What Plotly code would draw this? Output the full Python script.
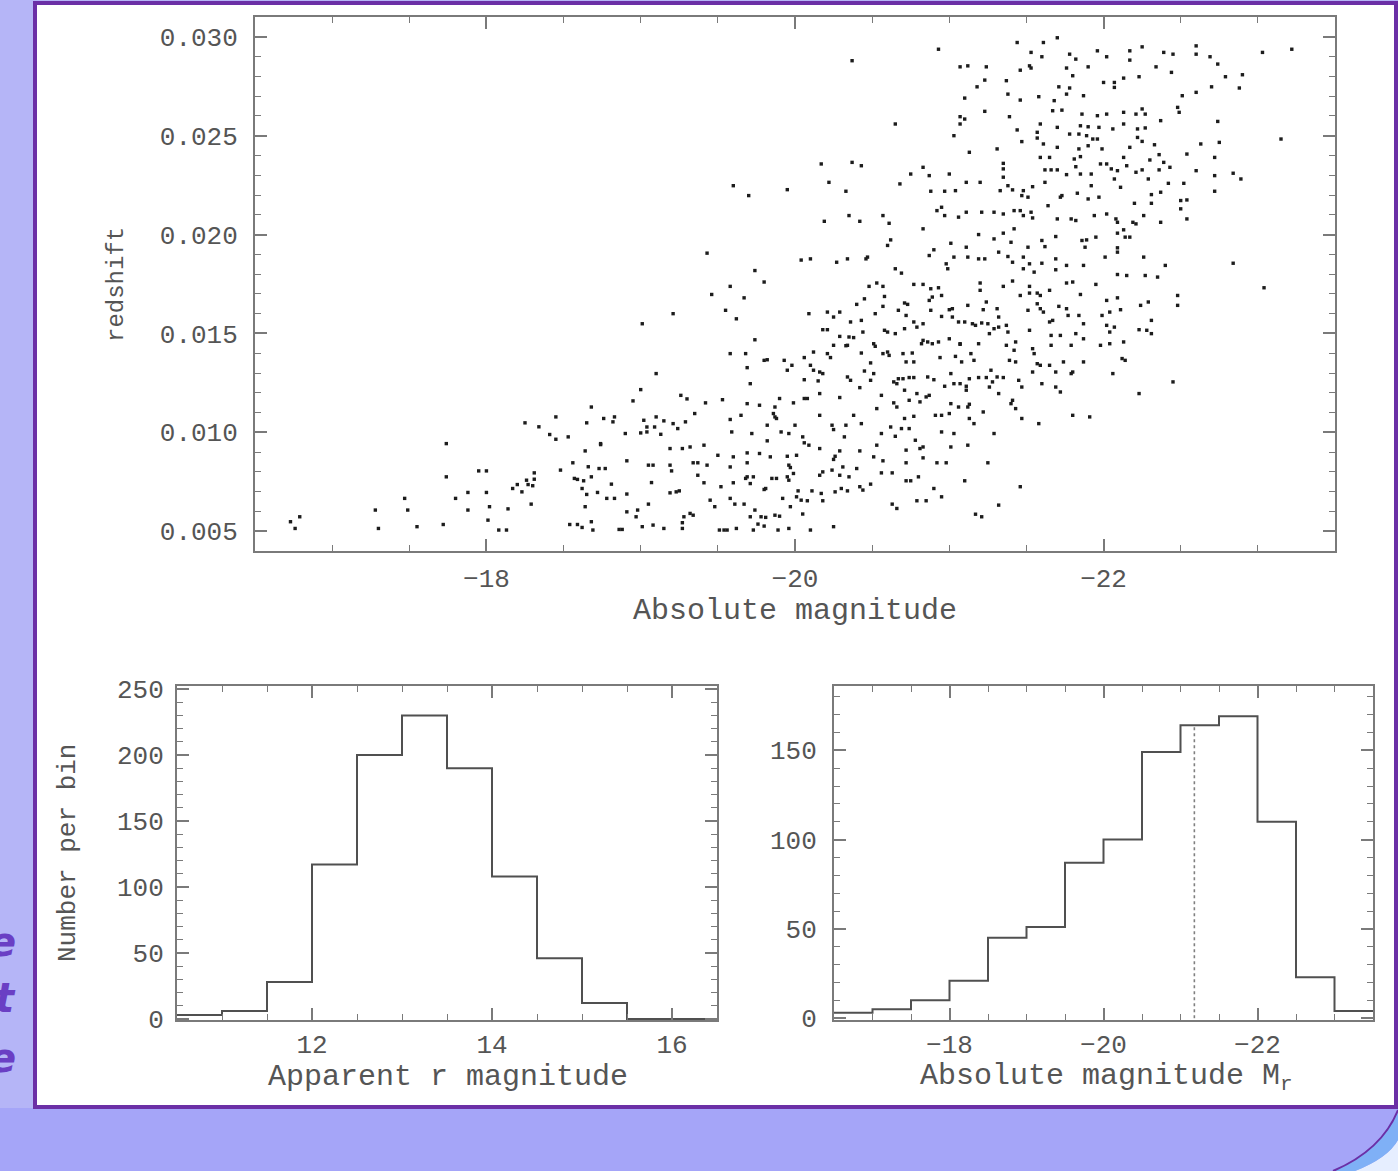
import plotly.graph_objects as go

# ---------------- data ----------------
# (absolute magnitude, redshift) pairs, grouped by region of the scatter
faint_galaxies = [
    (-16.73,0.00548),(-16.76,0.00514),(-16.79,0.00573),(-17.28,0.00607),(-17.30,0.00514),(-17.47,0.00666),
    (-17.49,0.00607),(-17.55,0.00523),(-17.72,0.00534),(-17.74,0.00943),(-17.74,0.00775),(-17.80,0.00666),
    (-17.88,0.00696),(-17.88,0.00607),(-17.95,0.00805),(-18.00,0.00805),(-18.00,0.00696),(-18.02,0.00624),
    (-18.01,0.00556),(-18.08,0.00506),(-18.13,0.00506),(-18.14,0.00613),(-18.17,0.00716),(-18.20,0.00736),
    (-18.23,0.00699),(-18.25,0.01048),(-18.26,0.00758),(-18.27,0.00736),(-18.29,0.00637),(-18.30,0.00730),
    (-18.31,0.00795),(-18.31,0.00763),(-18.34,0.01028),(-18.41,0.00989),(-18.45,0.00965),(-18.45,0.01078),
    (-18.48,0.00809),(-18.53,0.00977),(-18.54,0.00534),(-18.56,0.00846),(-18.57,0.00767),(-18.59,0.00762),
    (-18.59,0.00534),(-18.62,0.00519),(-18.62,0.00716),(-18.63,0.00755),(-18.64,0.00624),(-18.64,0.00906),
    (-18.65,0.01048),(-18.65,0.00686),(-18.66,0.00826),(-18.68,0.01128),(-18.68,0.00775),(-18.69,0.00506),
    (-18.68,0.00548),(-18.72,0.00696),(-18.73,0.00817),(-18.74,0.00938),
]

mid_galaxies_low_z = [
    (-19.58,0.01738),(-19.80,0.01760),(-19.46,0.01697),(-19.67,0.01680),(-20.48,0.01738),(-20.53,0.01755),
    (-20.57,0.01738),(-20.58,0.01687),(-20.77,0.01748),(-20.83,0.01748),(-20.88,0.01726),(-20.93,0.01731),
    (-20.95,0.01692),(-20.89,0.01684),(-20.87,0.01667),(-20.40,0.01647),(-20.45,0.01675),(-20.71,0.01654),
    (-20.73,0.01647),(-20.57,0.01637),(-21.02,0.01625),
    (-19.21,0.01600),(-19.01,0.01549),(-19.55,0.01617),(-19.62,0.01574),(-20.09,0.01600),(-20.21,0.01608),
    (-20.25,0.01583),(-20.29,0.01608),(-20.36,0.01558),(-20.43,0.01566),(-20.52,0.01600),(-20.67,0.01617),
    (-20.72,0.01591),(-20.77,0.01558),(-20.79,0.01532),(-20.83,0.01549),(-20.88,0.01617),(-20.95,0.01586),
    (-21.00,0.01620),(-21.02,0.01583),(-21.06,0.01558),(-20.18,0.01519),(-20.21,0.01519),(-20.58,0.01516),
    (-20.60,0.01507),(-20.71,0.01524),
    (-19.74,0.01468),(-20.29,0.01485),(-20.35,0.01482),(-20.33,0.01438),(-20.38,0.01479),(-20.51,0.01448),
    (-20.52,0.01435),(-20.44,0.01507),(-20.65,0.01499),(-20.83,0.01465),(-20.82,0.01448),(-20.86,0.01457),
    (-20.89,0.01448),(-20.93,0.01457),(-21.00,0.01473),(-21.07,0.01445),(-19.58,0.01398),(-19.68,0.01398),
    (-19.69,0.01327),(-19.80,0.01364),(-19.82,0.01367),(-19.93,0.01364),(-19.98,0.01339),(-19.95,0.01314),
    (-20.06,0.01378),(-20.12,0.01406),(-20.21,0.01398),(-20.23,0.01378),(-20.10,0.01339),(-20.12,0.01314),
    (-20.16,0.01305),(-20.18,0.01297),(-20.25,0.01440),(-20.34,0.01440),(-20.43,0.01401),(-20.49,0.01351),
    (-20.57,0.01398),(-20.60,0.01406),(-20.61,0.01389),(-20.70,0.01398),(-20.76,0.01401),(-20.72,0.01356),
    (-20.77,0.01356),(-20.94,0.01378),(-21.04,0.01384),(-19.10,0.01297),(-20.45,0.01310),(-20.51,0.01297),
    (-21.01,0.01297),
    (-20.06,0.01266),(-20.15,0.01260),(-20.16,0.01196),(-20.34,0.01280),(-20.36,0.01263),(-20.49,0.01263),
    (-20.64,0.01255),(-20.66,0.01246),(-20.67,0.01271),(-20.70,0.01271),(-20.74,0.01277),(-20.77,0.01277),
    (-20.71,0.01213),(-20.86,0.01280),(-20.90,0.01266),(-20.97,0.01233),(-21.03,0.01246),(-21.07,0.01246),
    (-19.00,0.01216),(-18.95,0.01159),(-19.26,0.01187),(-19.30,0.01169),(-19.42,0.01149),(-19.53,0.01165),
    (-19.71,0.01246),(-19.69,0.01145),(-19.77,0.01137),(-19.87,0.01128),(-19.90,0.01171),(-19.99,0.01149),
    (-20.06,0.01171),(-20.08,0.01171),(-20.29,0.01176),(-20.42,0.01226),(-20.56,0.01187),(-20.79,0.01196),
    (-20.85,0.01179),(-20.87,0.01187),(-20.81,0.01154),(-20.64,0.01149),(-20.66,0.01128),(-20.74,0.01162),
    (-21.01,0.01145),(-21.06,0.01128),
    (-18.76,0.01070),(-18.83,0.01078),(-18.82,0.01053),(-19.02,0.01061),(-19.04,0.01027),(-19.09,0.01027),
    (-19.10,0.01078),(-19.15,0.01058),(-19.21,0.01044),(-19.24,0.01019),(-19.29,0.01053),(-19.35,0.01095),
    (-18.90,0.00994),(-19.00,0.00997),(-19.04,0.01002),(-19.13,0.00990),(-19.58,0.01065),(-19.65,0.01086),
    (-19.59,0.01002),(-19.72,0.00994),(-19.82,0.01036),(-19.86,0.01095),(-19.87,0.01078),(-19.88,0.01070),
    (-19.91,0.01002),(-19.96,0.00994),(-20.00,0.01036),(-20.05,0.00977),(-20.06,0.00947),(-20.16,0.01086),
    (-20.24,0.01036),(-20.25,0.01014),(-20.33,0.01036),(-20.32,0.00977),(-20.38,0.01086),(-20.43,0.01044),
    (-20.53,0.01120),(-20.56,0.00994),(-20.62,0.01027),(-20.65,0.00980),(-20.69,0.01019),(-20.74,0.01019),
    (-20.71,0.01070),(-20.77,0.01081),(-20.91,0.01086),(-20.95,0.01086),(-21.00,0.01095),(-20.95,0.01002),
    (-21.03,0.00994),
    (-18.74,0.00943),(-19.19,0.00918),(-19.27,0.00918),(-19.32,0.00926),(-19.41,0.00935),(-19.50,0.00884),
    (-19.58,0.00825),(-19.60,0.00876),(-19.69,0.00896),(-19.69,0.00846),(-19.77,0.00893),(-19.82,0.00957),
    (-19.84,0.00876),(-19.95,0.00879),(-20.01,0.00884),(-19.96,0.00834),(-19.97,0.00822),(-20.09,0.00935),
    (-20.16,0.00918),(-20.26,0.00879),(-20.29,0.00906),(-20.25,0.00863),(-20.42,0.00906),(-20.51,0.00876),
    (-20.57,0.00856),(-20.53,0.00935),(-20.72,0.00910),(-20.81,0.00918),(-20.83,0.00926),(-20.78,0.00960),
    (-20.72,0.00846),(-20.83,0.00871),(-20.92,0.00846),(-20.98,0.00846),(-21.01,0.00926),(-18.91,0.00856),
    (-19.05,0.00834),(-19.08,0.00834),(-19.19,0.00834),(-19.20,0.00805),(-19.34,0.00846),(-19.37,0.00846),
    (-19.43,0.00834),(-18.77,0.00817),
    (-18.81,0.00738),(-18.78,0.00666),(-18.83,0.00666),(-18.91,0.00688),(-19.07,0.00746),(-19.19,0.00694),
    (-19.23,0.00699),(-19.25,0.00704),(-19.37,0.00783),(-19.41,0.00745),(-19.52,0.00725),(-19.60,0.00745),
    (-19.68,0.00767),(-19.69,0.00775),(-19.73,0.00775),(-19.71,0.00741),(-19.80,0.00711),(-19.81,0.00716),
    (-19.85,0.00767),(-19.88,0.00767),(-19.95,0.00775),(-19.96,0.00758),(-19.99,0.00792),(-20.02,0.00704),
    (-20.01,0.00674),(-20.04,0.00657),(-20.08,0.00654),(-20.11,0.00704),(-20.16,0.00783),(-20.18,0.00800),
    (-20.17,0.00691),(-20.18,0.00654),(-20.24,0.00809),(-20.29,0.00783),(-20.31,0.00825),(-20.35,0.00775),
    (-20.40,0.00817),(-20.26,0.00699),(-20.30,0.00716),(-20.34,0.00704),(-20.42,0.00725),(-20.44,0.00708),
    (-20.49,0.00738),(-20.56,0.00795),(-20.63,0.00795),(-20.72,0.00755),(-20.75,0.00755),(-20.80,0.00775),
    (-20.90,0.00716),(-20.95,0.00674),(-20.79,0.00654),(-20.85,0.00654),(-19.05,0.00637),(-19.45,0.00657),
    (-19.48,0.00624),(-19.58,0.00666),(-19.61,0.00637),(-19.67,0.00637),(-19.92,0.00666),(-19.97,0.00624),
    (-20.63,0.00637),(-20.66,0.00615),
    (-18.91,0.00598),(-18.98,0.00607),(-18.97,0.00573),(-19.28,0.00573),(-19.32,0.00590),(-19.34,0.00581),
    (-19.27,0.00543),(-19.74,0.00607),(-19.71,0.00573),(-19.78,0.00573),(-19.81,0.00570),(-19.87,0.00581),
    (-19.90,0.00576),(-19.76,0.00536),(-19.80,0.00526),(-20.05,0.00587),(-18.86,0.00509),(-18.88,0.00509),
    (-19.01,0.00523),(-19.08,0.00531),(-19.15,0.00514),(-19.27,0.00514),(-19.51,0.00506),(-19.54,0.00506),
    (-19.56,0.00506),(-19.62,0.00514),(-19.73,0.00506),(-19.89,0.00506),(-19.96,0.00514),(-20.10,0.00506),
    (-20.25,0.00523),
]

bright_galaxies_low_z = [
    (-21.20,0.01755),(-21.20,0.01718),(-21.35,0.01738),(-21.41,0.01765),(-21.46,0.01692),(-21.52,0.01704),
    (-21.52,0.01738),(-21.57,0.01704),(-21.59,0.01692),(-21.65,0.01718),(-21.76,0.01755),(-21.80,0.01760),
    (-21.85,0.01697),(-21.95,0.01748),(-22.02,0.01667),(-22.09,0.01680),(-22.24,0.01642),(-22.29,0.01659),
    (-22.48,0.01692),(-22.48,0.01642),(-23.04,0.01731),(-21.12,0.01642),(-21.24,0.01659),(-21.31,0.01625),
    (-21.22,0.01620),(-21.32,0.01583),(-21.37,0.01541),(-21.51,0.01617),(-21.57,0.01650),(-21.59,0.01625),
    (-21.61,0.01608),(-21.71,0.01637),(-21.76,0.01625),(-21.77,0.01591),(-21.84,0.01591),(-21.87,0.01549),
    (-21.99,0.01591),(-22.04,0.01608),(-22.11,0.01620),(-22.02,0.01541),(-22.07,0.01532),(-22.04,0.01507),
    (-22.23,0.01519),(-22.28,0.01516),(-22.31,0.01566),(-22.31,0.01499),(-21.10,0.01558),(-21.15,0.01549),
    (-21.17,0.01541),(-21.21,0.01553),(-21.25,0.01549),(-21.29,0.01524),(-21.32,0.01532),(-21.38,0.01507),
    (-21.52,0.01516),(-21.65,0.01558),(-21.67,0.01566),(-21.26,0.01499),(-21.37,0.01440),(-21.42,0.01415),
    (-21.43,0.01457),(-21.54,0.01423),(-21.66,0.01490),(-21.66,0.01440),(-21.72,0.01490),(-21.79,0.01440),
    (-21.82,0.01499),(-21.87,0.01473),(-21.98,0.01440),(-22.04,0.01448),(-22.13,0.01457),(-21.14,0.01398),
    (-21.19,0.01448),(-21.07,0.01448),(-21.08,0.01356),(-21.16,0.01364),(-21.27,0.01314),(-21.31,0.01280),
    (-21.39,0.01364),(-21.43,0.01356),(-21.55,0.01398),(-21.57,0.01347),(-21.59,0.01339),(-21.65,0.01339),
    (-21.69,0.01305),(-21.74,0.01356),(-21.79,0.01297),(-21.80,0.01305),(-21.87,0.01356),(-22.06,0.01297),
    (-22.12,0.01373),(-22.14,0.01364),(-21.13,0.01271),(-21.19,0.01277),(-21.24,0.01277),(-21.28,0.01255),
    (-21.26,0.01229),(-21.35,0.01277),(-21.45,0.01263),(-21.47,0.01229),(-21.54,0.01305),(-21.60,0.01246),
    (-21.69,0.01229),(-21.72,0.01204),(-22.23,0.01196),(-22.45,0.01255),(-21.11,0.01233),(-21.11,0.01213),
    (-21.41,0.01162),(-21.40,0.01145),(-21.43,0.01120),(-21.32,0.01196),(-21.22,0.01103),(-21.13,0.01142),
    (-21.12,0.01128),(-21.13,0.01070),(-21.16,0.01044),(-21.47,0.01070),(-21.58,0.01044),(-21.80,0.01086),
    (-21.91,0.01078),(-21.29,0.00994),(-21.12,0.00935),(-21.25,0.00846),(-21.10,0.00755),(-21.46,0.00725),
    (-21.32,0.00632),(-21.17,0.00586),(-21.21,0.00573),
]

mid_galaxies_high_z = [
    (-20.93,0.02937),(-20.37,0.02879),(-21.07,0.02596),(-20.65,0.02559),(-21.03,0.02500),(-20.17,0.02357),
    (-20.37,0.02365),(-20.43,0.02348),(-20.83,0.02340),(-20.75,0.02306),(-20.87,0.02298),(-21.00,0.02306),
    (-20.22,0.02264),(-20.68,0.02256),(-19.60,0.02247),(-19.70,0.02197),(-19.95,0.02227),(-20.33,0.02219),
    (-20.88,0.02219),(-20.97,0.02219),(-21.04,0.02222),(-20.95,0.02138),(-20.92,0.02121),(-20.97,0.02096),
    (-21.06,0.02088),(-20.19,0.02067),(-20.35,0.02096),(-20.42,0.02067),(-20.57,0.02096),(-20.61,0.02057),
    (-20.83,0.02029),(-20.62,0.01973),(-20.60,0.01945),(-21.01,0.01956),(-20.90,0.01923),(-20.87,0.01894),
    (-20.98,0.01852),(-20.99,0.01827),(-21.03,0.01886),(-19.43,0.01906),(-20.04,0.01871),(-20.10,0.01877),
    (-20.27,0.01860),(-20.34,0.01877),(-20.46,0.01877),(-20.47,0.01886),(-19.74,0.01818),(-20.65,0.01827),
    (-20.69,0.01805),
]

bright_galaxies_high_z = [
    (-21.44,0.02971),(-21.61,0.02971),(-21.70,0.02995),(-21.53,0.02921),(-21.60,0.02899),(-21.78,0.02912),
    (-21.82,0.02887),(-21.96,0.02929),(-22.02,0.02899),(-22.17,0.02929),(-22.17,0.02882),(-22.25,0.02949),
    (-22.39,0.02921),(-22.45,0.02912),(-22.60,0.02954),(-22.60,0.02912),(-22.69,0.02899),(-22.74,0.02862),
    (-23.22,0.02937),(-23.03,0.02921),(-21.07,0.02848),(-21.12,0.02853),(-21.24,0.02848),(-21.46,0.02831),
    (-21.52,0.02853),(-21.53,0.02842),(-21.76,0.02842),(-21.80,0.02803),(-21.90,0.02848),(-22.00,0.02769),
    (-22.07,0.02769),(-22.07,0.02744),(-22.13,0.02791),(-22.23,0.02798),(-22.34,0.02848),(-22.44,0.02820),
    (-22.79,0.02798),(-22.90,0.02808),(-21.23,0.02781),(-21.18,0.02747),(-21.37,0.02778),(-21.71,0.02747),
    (-21.78,0.02741),(-21.87,0.02702),(-21.76,0.02710),(-21.68,0.02677),(-22.51,0.02702),(-22.60,0.02719),
    (-22.70,0.02747),(-22.88,0.02741),(-21.46,0.02680),(-21.58,0.02697),(-21.10,0.02690),(-21.38,0.02710),
    (-21.73,0.02629),(-21.67,0.02626),(-21.23,0.02623),(-21.39,0.02596),(-21.59,0.02559),(-21.70,0.02542),
    (-21.10,0.02584),(-21.07,0.02559),(-21.86,0.02609),(-21.96,0.02601),(-22.02,0.02609),(-22.13,0.02618),
    (-22.21,0.02609),(-22.25,0.02635),(-22.27,0.02609),(-22.37,0.02576),(-22.48,0.02643),(-22.49,0.02618),
    (-22.74,0.02572),(-21.85,0.02550),(-21.90,0.02545),(-21.97,0.02542),(-22.06,0.02534),(-22.13,0.02559),
    (-22.22,0.02534),(-22.27,0.02539),(-21.44,0.02529),(-21.57,0.02517),(-21.57,0.02488),(-21.61,0.02458),
    (-21.70,0.02441),(-21.78,0.02508),(-21.84,0.02508),(-21.89,0.02500),(-21.93,0.02483),(-21.96,0.02483),
    (-21.47,0.02470),(-21.31,0.02433),(-21.13,0.02416),(-21.84,0.02433),(-21.90,0.02449),(-21.99,0.02433),
    (-22.17,0.02441),(-22.22,0.02491),(-22.25,0.02471),(-22.33,0.02454),(-22.63,0.02458),(-22.75,0.02466),
    (-23.15,0.02483),(-21.59,0.02390),(-21.65,0.02390),(-21.81,0.02382),(-21.85,0.02394),(-22.02,0.02357),
    (-22.13,0.02390),(-22.30,0.02377),(-22.36,0.02404),(-22.39,0.02365),(-22.54,0.02407),(-22.72,0.02390),
    (-21.35,0.02360),(-21.35,0.02332),(-21.35,0.02290),(-21.62,0.02327),(-21.66,0.02327),(-21.70,0.02327),
    (-21.76,0.02303),(-21.82,0.02343),(-21.85,0.02306),(-21.92,0.02306),(-21.98,0.02357),(-22.05,0.02332),
    (-22.09,0.02323),(-22.15,0.02348),(-22.21,0.02315),(-22.25,0.02327),(-22.29,0.02281),(-22.36,0.02327),
    (-22.43,0.02340),(-22.60,0.02323),(-22.72,0.02298),(-22.84,0.02310),(-22.89,0.02281),(-21.11,0.02264),
    (-21.20,0.02264),(-21.38,0.02247),(-21.33,0.02222),(-21.41,0.02226),(-21.48,0.02222),(-21.54,0.02242),
    (-21.62,0.02264),(-21.72,0.02189),(-21.83,0.02209),(-22.07,0.02281),(-22.11,0.02239),(-21.92,0.02247),
    (-22.42,0.02259),(-22.52,0.02259),(-22.72,0.02219),(-22.37,0.02214),(-22.31,0.02202),(-21.47,0.02197),
    (-21.51,0.02189),(-21.64,0.02146),(-21.73,0.02197),(-21.90,0.02180),(-21.97,0.02189),(-22.20,0.02158),
    (-22.31,0.02158),(-22.50,0.02172),(-22.54,0.02175),(-22.50,0.02130),(-21.11,0.02113),(-21.21,0.02113),
    (-21.29,0.02113),(-21.35,0.02104),(-21.42,0.02121),(-21.46,0.02121),(-21.48,0.02096),(-21.53,0.02113),
    (-21.54,0.02084),(-21.70,0.02079),(-21.79,0.02079),(-21.82,0.02071),(-21.94,0.02096),(-22.02,0.02104),
    (-22.08,0.02079),(-22.09,0.02062),(-22.19,0.02062),(-22.21,0.02054),(-22.26,0.02096),(-22.37,0.02062),
    (-22.54,0.02079),(-21.19,0.02000),(-21.29,0.01978),(-21.35,0.02007),(-21.40,0.01961),(-21.42,0.02029),
    (-21.51,0.01936),(-21.60,0.01970),(-21.62,0.01939),(-21.69,0.01990),(-21.86,0.01970),(-21.89,0.01973),
    (-21.95,0.01987),(-21.88,0.01936),(-22.09,0.02007),(-22.13,0.02024),(-22.14,0.01987),(-22.09,0.01933),
    (-22.09,0.01911),(-22.17,0.01987),(-21.11,0.01936),(-21.12,0.01886),(-21.19,0.01877),(-21.23,0.01877),
    (-21.32,0.01911),(-21.38,0.01889),(-21.41,0.01860),(-21.48,0.01886),(-21.48,0.01827),(-21.55,0.01810),
    (-21.52,0.01852),(-21.60,0.01855),(-21.69,0.01877),(-21.69,0.01822),(-21.76,0.01844),(-21.87,0.01844),
    (-22.01,0.01886),(-22.09,0.01798),(-22.15,0.01793),(-22.26,0.01886),(-22.27,0.01793),(-22.35,0.01785),
    (-22.40,0.01844),(-22.84,0.01855),
]

# histogram of apparent r magnitude (bin edges and counts per bin)
app_mag_edges = [10.5, 11.0, 11.5, 12.0, 12.5, 13.0, 13.5, 14.0, 14.5, 15.0, 15.5, 16.0, 16.5]
app_mag_counts = [3, 6, 28, 117, 200, 230, 190, 108, 46, 12, 0, 0]

# histogram of absolute magnitude M_r
abs_mag_edges = [-16.5, -17.0, -17.5, -18.0, -18.5, -19.0, -19.5, -20.0, -20.5, -21.0,
                 -21.5, -22.0, -22.5, -23.0, -23.5]
abs_mag_counts = [3, 5, 10, 21, 45, 51, 87, 100, 149, 164, 169, 110, 23, 4]
abs_mag_cut = -21.18          # dotted vertical line
abs_mag_cut_height = 164

scatter_xticks = [-18, -20, -22]
redshift_ticks = [0.005, 0.010, 0.015, 0.020, 0.025, 0.030]

# ---------------- layout helpers ----------------
W, H = 1398, 1171
def px(x):
    return x / W
def py(y):
    return 1 - y / H

galaxies = faint_galaxies + mid_galaxies_low_z + bright_galaxies_low_z + mid_galaxies_high_z + bright_galaxies_high_z
gx = [g[0] for g in galaxies]
gz = [g[1] for g in galaxies]

TXT = "#555555"
AX = "#7a7a7a"
MONO = "Liberation Mono, Courier New, monospace"

fig = go.Figure()

fig.add_trace(go.Scatter(
    x=gx, y=gz, mode="markers",
    marker=dict(symbol="square", size=3.4, color="#1c1c1c", line=dict(width=0)),
    xaxis="x", yaxis="y", showlegend=False, hoverinfo="skip"))

fig.add_trace(go.Scatter(
    x=app_mag_edges, y=app_mag_counts + [app_mag_counts[-1]], mode="lines",
    line=dict(shape="hv", color="#505050", width=2),
    xaxis="x2", yaxis="y2", showlegend=False))

fig.add_trace(go.Scatter(
    x=abs_mag_edges, y=abs_mag_counts + [abs_mag_counts[-1]], mode="lines",
    line=dict(shape="hv", color="#505050", width=2),
    xaxis="x3", yaxis="y3", showlegend=False))

fig.add_trace(go.Scatter(
    x=[abs_mag_cut, abs_mag_cut], y=[0, abs_mag_cut_height], mode="lines",
    line=dict(color="#808080", width=1.6, dash="dot"),
    xaxis="x3", yaxis="y3", showlegend=False))

def axis_style(**kw):
    d = dict(showline=True, linecolor=AX, linewidth=2, mirror="allticks",
             ticks="inside", ticklen=12, tickwidth=1.6, tickcolor=AX,
             showgrid=False, zeroline=False, automargin=False,
             tickfont=dict(family=MONO, size=26, color=TXT))
    d.update(kw)
    return d

minor_x = dict(dtick=0.5, ticks="inside", ticklen=6, tickwidth=1.4, tickcolor=AX, showgrid=False)

fig.update_layout(
    width=W, height=H,
    margin=dict(l=0, r=0, t=0, b=0, pad=0, autoexpand=False),
    paper_bgcolor="#b5b5f7",
    plot_bgcolor="rgba(0,0,0,0)",
    showlegend=False,
    xaxis=axis_style(domain=[px(255), px(1335)], range=[-16.5, -23.5],
                     tickvals=scatter_xticks, minor=minor_x,
                     anchor="y", ticklabelstandoff=3),
    yaxis=axis_style(domain=[py(551), py(17)], range=[0.0040, 0.0310],
                     tickvals=redshift_ticks, tickformat=".3f",
                     minor=dict(dtick=0.001, ticks="inside", ticklen=6, tickwidth=1.4,
                                tickcolor=AX, showgrid=False),
                     anchor="x", ticklabelstandoff=10),
    xaxis2=axis_style(domain=[px(177), px(717)], range=[10.5, 16.5],
                      dtick=2, tick0=12, minor=minor_x, anchor="y2",
                      ticklabelstandoff=0),
    yaxis2=axis_style(domain=[py(1020), py(686)], range=[-0.8, 252.3],
                      dtick=50, tick0=0,
                      minor=dict(dtick=10, ticks="inside", ticklen=6, tickwidth=1.4,
                                 tickcolor=AX, showgrid=False),
                      anchor="x2", ticklabelstandoff=6),
    xaxis3=axis_style(domain=[px(834), px(1373)], range=[-16.5, -23.5],
                      tickvals=scatter_xticks, minor=minor_x, anchor="y3",
                      ticklabelstandoff=0),
    yaxis3=axis_style(domain=[py(1020), py(686)], range=[-1.0, 186.0],
                      dtick=50, tick0=0,
                      minor=dict(dtick=10, ticks="inside", ticklen=6, tickwidth=1.4,
                                 tickcolor=AX, showgrid=False),
                      anchor="x3", ticklabelstandoff=10),
)

# ---------------- decorations ----------------
shapes = [
    # slightly darker lower background band
    dict(type="rect", xref="paper", yref="paper", x0=0, x1=1, y0=0, y1=py(1108),
         fillcolor="#a5a5f8", line=dict(width=0), layer="below"),
    # white card with purple border
    dict(type="rect", xref="paper", yref="paper", x0=px(35), x1=px(1396), y0=py(1107), y1=py(3),
         fillcolor="white", line=dict(color="#6b2fa6", width=4), layer="below"),
]

def path(pts):
    s = "M {:.5f},{:.5f}".format(px(pts[0][0]), py(pts[0][1]))
    for p in pts[1:]:
        if len(p) == 4:
            s += " Q {:.5f},{:.5f} {:.5f},{:.5f}".format(px(p[0]), py(p[1]), px(p[2]), py(p[3]))
        else:
            s += " L {:.5f},{:.5f}".format(px(p[0]), py(p[1]))
    return s + " Z"

# corner swoosh
shapes.append(dict(type="path", xref="paper", yref="paper",
                   path=path([(1355, 1171), (1388, 1158, 1398, 1140), (1398, 1171)]),
                   fillcolor="#e6eeff", line=dict(width=0), layer="below"))
shapes.append(dict(type="path", xref="paper", yref="paper",
                   path=path([(1333, 1171), (1382, 1150, 1398, 1110), (1398, 1140),
                              (1388, 1158, 1355, 1171)]),
                   fillcolor="#7fb0f6", line=dict(width=0), layer="below"))
shapes.append(dict(type="path", xref="paper", yref="paper",
                   path="M {:.5f},{:.5f} Q {:.5f},{:.5f} {:.5f},{:.5f}".format(
                       px(1333), py(1171), px(1382), py(1150), px(1398), py(1110)),
                   line=dict(color="#6b2fa6", width=2), layer="below"))
fig.update_layout(shapes=shapes)

ann = []
def title(text, x, y, angle=0, size=30):
    ann.append(dict(text=text, x=px(x), y=py(y), xref="paper", yref="paper",
                    xanchor="center", yanchor="middle", showarrow=False, textangle=angle,
                    font=dict(family=MONO, size=size, color=TXT)))

title("Absolute magnitude", 795, 611)
title("redshift", 117, 285, angle=-90, size=24)
title("Number per bin", 68, 853, angle=-90, size=26)
title("Apparent r magnitude", 448, 1077)
title("Absolute magnitude M<sub>r</sub>", 1106, 1077)

# letters peeking out from behind the card on the left edge
for ch, yy in [("e", 942), ("t", 998), ("e", 1058)]:
    ann.append(dict(text="<b><i>" + ch + "</i></b>", x=px(18), y=py(yy), xref="paper", yref="paper",
                    xanchor="right", yanchor="middle", showarrow=False,
                    font=dict(family="DejaVu Sans", size=40, color="#6a3fc4")))
fig.update_layout(annotations=ann)

fig.write_html("out.html")
